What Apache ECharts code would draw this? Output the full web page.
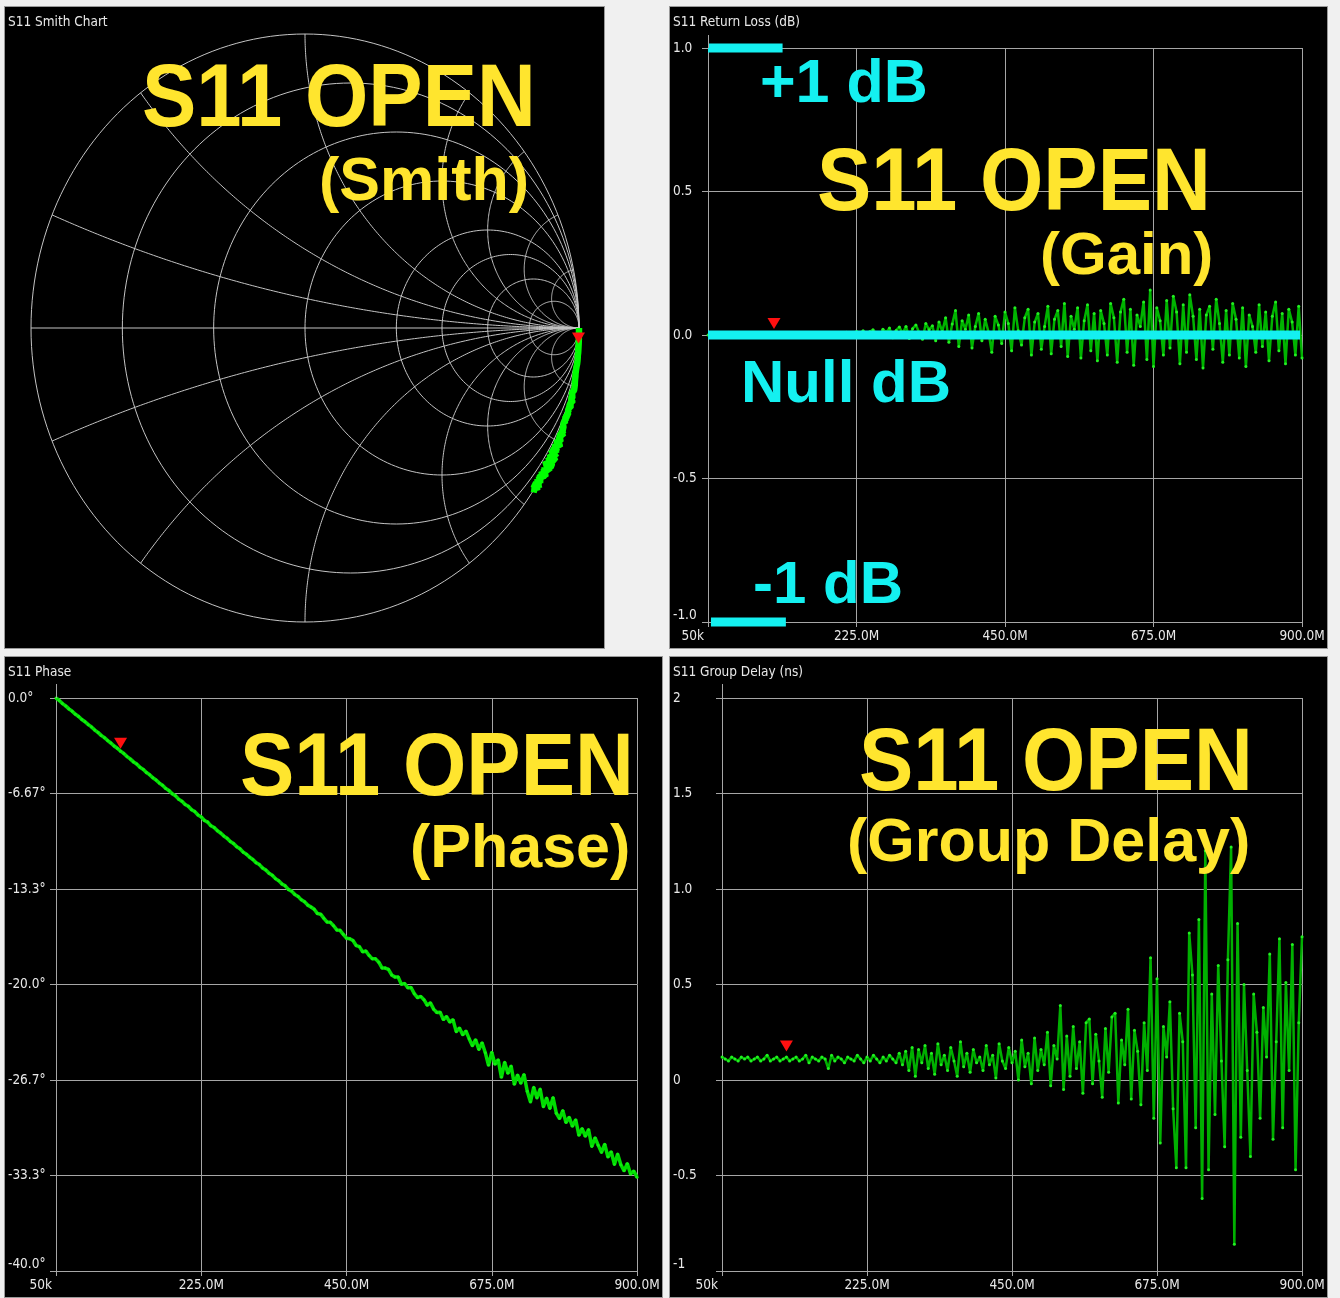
<!DOCTYPE html>
<html><head><meta charset="utf-8">
<script src="https://cdn.jsdelivr.net/npm/echarts@6/dist/echarts.min.js"></script>
<style>
html,body{margin:0;padding:0;background:#f0f0f0;}
.panel{position:absolute;background:#000;box-sizing:border-box;border:1px solid #9a9a9a;}
#c{position:absolute;left:0;top:0;width:1340px;height:1298px;}
</style>
</head><body>
<div class="panel" style="left:4px;top:6px;width:601px;height:643px"></div>
<div class="panel" style="left:669px;top:6px;width:659px;height:643px"></div>
<div class="panel" style="left:4px;top:656px;width:659px;height:642px"></div>
<div class="panel" style="left:669px;top:656px;width:659px;height:642px"></div>
<div id="c"></div>
<script>
// ---------- data ----------
const freqMHz = [
0.05,5,10,15,20,25,30,35,40,45,
50,55,60,65,70,75,80,85,90,95,
100,105,110,115,120,125,130,135,140,145,
150,155,160,165,170,175,180,185,190,195,
200,205,210,215,220,225,230,235,240,245,
250,255,260,265,270,275,280,285,290,295,
300,305,310,315,320,325,330,335,340,345,
350,355,360,365,370,375,380,385,390,395,
400,405,410,415,420,425,430,435,440,445,
450,455,460,465,470,475,480,485,490,495,
500,505,510,515,520,525,530,535,540,545,
550,555,560,565,570,575,580,585,590,595,
600,605,610,615,620,625,630,635,640,645,
650,655,660,665,670,675,680,685,690,695,
700,705,710,715,720,725,730,735,740,745,
750,755,760,765,770,775,780,785,790,795,
800,805,810,815,820,825,830,835,840,845,
850,855,860,865,870,875,880,885,890,895,
900];

const gainDb = [
0.000,0.001,0.000,-0.001,0.002,0.000,0.001,-0.001,0.000,0.002,
0.001,0.000,0.002,-0.001,0.001,0.003,0.000,0.002,-0.001,0.001,
0.002,0.001,-0.001,0.003,0.000,0.002,0.004,-0.002,0.003,0.001,
0.004,-0.002,0.005,0.002,-0.003,0.006,0.001,-0.002,0.005,0.003,
0.008,-0.003,0.010,0.004,-0.006,0.012,0.002,0.015,-0.005,0.011,
0.018,0.004,-0.008,0.020,0.009,0.024,-0.010,0.016,0.028,0.005,
0.030,-0.012,0.022,0.035,0.008,-0.015,0.040,0.018,0.032,-0.020,
0.045,0.012,0.060,-0.025,0.038,0.085,-0.040,0.050,0.020,0.070,
-0.045,0.030,0.075,-0.020,0.055,0.010,-0.060,0.065,0.035,-0.030,
0.080,0.040,-0.055,0.095,0.015,-0.035,0.060,0.090,-0.070,0.045,
0.075,-0.050,0.030,0.100,-0.065,0.055,0.085,-0.040,0.110,-0.075,
0.065,0.020,0.095,-0.080,0.050,0.105,-0.055,0.075,-0.090,0.085,
0.040,-0.070,0.110,0.060,-0.095,0.080,0.125,-0.060,0.090,-0.105,
0.070,0.030,0.115,-0.085,0.157,-0.110,0.095,0.050,-0.070,0.120,
-0.045,0.135,0.080,-0.100,0.105,-0.060,0.140,0.065,-0.085,0.090,
-0.115,0.070,0.100,-0.050,0.125,0.040,-0.095,0.085,-0.070,0.110,
0.055,-0.080,0.095,-0.110,0.070,0.030,-0.060,0.105,-0.040,0.080,
-0.090,0.065,0.115,-0.055,0.075,-0.100,0.090,0.045,-0.070,0.100,
-0.080];

const phaseDeg = [
0.00,-0.17,-0.39,-0.55,-0.76,-0.92,-1.13,-1.29,-1.50,-1.66,
-1.86,-2.02,-2.24,-2.40,-2.61,-2.77,-2.97,-3.14,-3.35,-3.51,
-3.71,-3.87,-4.09,-4.25,-4.46,-4.61,-4.83,-4.98,-5.20,-5.35,
-5.57,-5.72,-5.94,-6.09,-6.31,-6.46,-6.69,-6.83,-7.06,-7.20,
-7.43,-7.56,-7.80,-7.93,-8.17,-8.30,-8.55,-8.66,-8.92,-9.04,
-9.27,-9.42,-9.64,-9.79,-10.02,-10.16,-10.39,-10.53,-10.76,-10.90,
-11.12,-11.27,-11.50,-11.63,-11.87,-12.01,-12.24,-12.37,-12.61,-12.75,
-12.98,-13.11,-13.36,-13.48,-13.72,-13.85,-14.09,-14.22,-14.46,-14.59,
-14.75,-15.05,-15.09,-15.38,-15.64,-15.66,-15.90,-16.19,-16.22,-16.50,
-16.77,-16.80,-16.93,-17.28,-17.36,-17.72,-17.66,-17.97,-18.21,-18.21,
-18.44,-18.84,-18.85,-18.94,-19.33,-19.47,-19.48,-19.98,-19.93,-20.23,
-20.21,-20.64,-20.92,-20.83,-21.06,-21.44,-21.28,-21.72,-21.95,-21.93,
-22.45,-22.24,-22.62,-22.46,-23.29,-23.03,-23.51,-23.25,-23.78,-24.27,
-23.85,-24.54,-24.07,-24.76,-25.64,-24.73,-25.56,-25.25,-26.48,-25.42,
-26.20,-25.69,-26.97,-26.31,-26.89,-26.28,-27.46,-28.20,-27.18,-27.92,
-27.30,-28.54,-27.92,-28.66,-27.89,-28.98,-29.36,-28.80,-29.63,-29.27,
-29.90,-29.44,-30.52,-30.06,-30.59,-30.13,-31.31,-30.70,-31.23,-31.72,
-31.15,-32.04,-31.67,-32.56,-31.84,-32.58,-33.01,-32.50,-33.23,-33.02,
-33.45];

const groupDelayNs = [
0.12,0.11,0.10,0.12,0.11,0.10,0.12,0.11,0.12,0.10,
0.11,0.12,0.10,0.11,0.13,0.10,0.11,0.12,0.10,0.11,
0.12,0.10,0.11,0.12,0.10,0.11,0.13,0.09,0.12,0.11,
0.10,0.12,0.11,0.06,0.13,0.10,0.12,0.11,0.09,0.12,
0.11,0.10,0.13,0.11,0.09,0.12,0.10,0.13,0.11,0.09,
0.12,0.10,0.13,0.11,0.09,0.14,0.08,0.15,0.05,0.17,
0.02,0.16,0.09,0.18,0.06,0.14,0.03,0.19,0.08,0.13,
0.05,0.17,0.10,0.02,0.20,0.07,0.14,0.04,0.16,0.09,
0.12,0.05,0.18,0.08,0.13,0.01,0.19,0.10,0.06,0.17,
0.09,0.15,0.00,0.21,0.07,0.14,-0.02,0.22,0.05,0.16,
0.08,0.25,-0.03,0.18,0.11,0.39,-0.05,0.23,0.02,0.28,
0.06,0.20,-0.07,0.30,0.32,-0.02,0.24,0.10,-0.09,0.27,
0.04,0.33,0.35,-0.12,0.21,0.08,0.37,-0.10,0.26,0.15,
-0.13,0.30,0.05,0.64,-0.20,0.53,-0.33,0.28,0.12,0.41,
-0.15,-0.46,0.35,0.20,-0.46,0.77,0.55,-0.25,0.84,-0.62,
1.20,-0.47,0.45,-0.18,0.60,0.10,-0.35,0.63,1.22,-0.86,
0.82,-0.30,0.50,0.05,-0.40,0.45,0.25,-0.20,0.38,0.12,
0.66,-0.31,0.20,0.74,-0.25,0.51,0.05,0.71,-0.47,0.30,
0.75];

const markerIndex = 20;

// limit lines of the return-loss panel
const upperLimitFreq = [0, 113];   const upperLimitDb = [1, 1];
const nullLimitFreq  = [0, 897];   const nullLimitDb  = [0, 0];
const lowerLimitFreq = [4.5, 118]; const lowerLimitDb = [-1, -1];

// tick labels
const freqTickLabels  = ['50k', '225.0M', '450.0M', '675.0M', '900.0M'];
const gainTickLabels  = ['-1.0', '-0.5', '0.0', '0.5', '1.0'];
const phaseTickLabels = ['-40.0°', '-33.3°', '-26.7°', '-20.0°', '-13.3°', '-6.67°', '0.0°'];
const delayTickLabels = ['-1', '-0.5', '0', '0.5', '1.0', '1.5', '2'];

// Smith chart grid
const smithResistances = [0, 0.2, 0.5, 1, 2, 3, 5, 10];
const smithReactances  = [0.2, 0.5, 1, 2, 3, 5, 10];

// ---------- styles ----------
const YELLOW = '#ffe52e', CYAN = '#14f0f0', GRID = '#a6a6a6', TXT = '#e8e8e8';
const SMALL_FONT = '"DejaVu Sans Condensed", "DejaVu Sans", sans-serif';
const BIG_FONT = '"Liberation Sans", Arial, sans-serif';
const FS = 13.5;

const pairs = (xs, ys) => xs.map((x, i) => [x, ys[i]]);

// Smith trace from magnitude (dB) and phase
const smithTrace = freqMHz.map((f, i) => {
  const m = Math.pow(10, gainDb[i] / 20);
  const a = phaseDeg[i] * Math.PI / 180;
  return [m * Math.cos(a), m * Math.sin(a)];
});

const smithItems = [];
smithResistances.forEach(r => smithItems.push({t: 'r', v: r}));
smithReactances.forEach(x => { smithItems.push({t: 'x', v: x}); smithItems.push({t: 'x', v: -x}); });
smithItems.push({t: 'axis', v: 0});

function smithRender(params, api) {
  const it = smithItems[params.dataIndex];
  const pts = [];
  const N = 200;
  if (it.t === 'r') {
    const c = it.v / (1 + it.v), rad = 1 / (1 + it.v);
    for (let k = 0; k <= N; k++) {
      const t = 2 * Math.PI * k / N;
      pts.push(api.coord([c + rad * Math.cos(t), rad * Math.sin(t)]));
    }
  } else if (it.t === 'x') {
    const x = Math.abs(it.v), s = it.v > 0 ? 1 : -1;
    const cy = 1 / x, rad = 1 / x;
    const px = (x * x - 1) / (x * x + 1), py = 2 * x / (x * x + 1);
    let a0 = Math.atan2(py - cy, px - 1);
    if (a0 < 0) a0 += 2 * Math.PI;
    const a1 = 1.5 * Math.PI;
    for (let k = 0; k <= N; k++) {
      const t = a0 + (a1 - a0) * k / N;
      pts.push(api.coord([1 + rad * Math.cos(t), s * (cy + rad * Math.sin(t))]));
    }
  } else {
    pts.push(api.coord([-1, 0]), api.coord([1, 0]));
  }
  return {type: 'polyline', silent: true, shape: {points: pts},
          style: {stroke: '#c4c4c4', lineWidth: 1, fill: null}};
}

function freqAxis(gridIndex) {
  return {
    type: 'value', gridIndex, min: 0, max: 900, interval: 225,
    axisLine: {show: true, onZero: false, lineStyle: {color: GRID}},
    axisTick: {show: true, length: 5, lineStyle: {color: GRID}},
    splitLine: {show: true, lineStyle: {color: GRID, width: 1}},
    axisLabel: {
      color: TXT, fontSize: FS, fontFamily: SMALL_FONT, margin: 7,
      alignMinLabel: 'right',
      formatter: v => {
        const s = freqTickLabels[Math.round(v / 225)];
        return v === 0 ? '{m|' + s + '}' : s;
      },
      rich: {m: {color: TXT, fontSize: FS, fontFamily: SMALL_FONT, padding: [0, 4, 0, 0]}}
    }
  };
}
function valueAxis(gridIndex, min, max, interval, labels, margin) {
  return {
    type: 'value', gridIndex, min, max, interval,
    axisLine: {show: true, onZero: false, lineStyle: {color: GRID}},
    axisTick: {show: true, length: 6, lineStyle: {color: GRID}},
    splitLine: {show: true, lineStyle: {color: GRID, width: 1}},
    axisLabel: {
      color: TXT, fontSize: FS, fontFamily: SMALL_FONT, margin, align: 'left',
      verticalAlignMinLabel: 'bottom',
      formatter: v => labels[Math.round((v - min) / interval)]
    }
  };
}

function marker(coord, offset) {
  return {
    symbol: 'triangle', symbolRotate: 180, symbolSize: [13, 11], symbolOffset: [0, offset],
    itemStyle: {color: '#ff1010'}, label: {show: false}, silent: true,
    data: [{coord}]
  };
}

const trace = (xi, yi, data, color, width, mp, dot) => ({
  type: 'line', xAxisIndex: xi, yAxisIndex: yi, data, clip: false, silent: true,
  symbol: dot ? 'circle' : 'none', showSymbol: !!dot, symbolSize: 3,
  itemStyle: {color: dot || color},
  lineStyle: {color, width}, z: 3, markPoint: mp, animation: false
});

const limit = (data) => ({
  type: 'line', xAxisIndex: 1, yAxisIndex: 1, data, clip: false, silent: true,
  symbol: 'none', lineStyle: {color: CYAN, width: 9, cap: 'butt'}, z: 5, animation: false
});

const texts = [
  ['S11 OPEN', 142, 101, 89, YELLOW, 0.915],
  ['(Smith)', 319, 183, 61, YELLOW, 1],
  ['+1 dB', 760, 85, 61, CYAN, 1],
  ['S11 OPEN', 817, 185, 89, YELLOW, 0.915],
  ['(Gain)', 1040, 257, 60, YELLOW, 1],
  ['Null dB', 741, 385, 60, CYAN, 1],
  ['-1 dB', 753, 586, 60, CYAN, 1],
  ['S11 OPEN', 240, 770, 89, YELLOW, 0.915],
  ['(Phase)', 410, 850, 61, YELLOW, 1],
  ['S11 OPEN', 859, 765, 89, YELLOW, 0.915],
  ['(Group Delay)', 847, 844, 61, YELLOW, 1]
];
const titles = [
  ['S11 Smith Chart', 8, 22], ['S11 Return Loss (dB)', 673, 22],
  ['S11 Phase', 8, 672], ['S11 Group Delay (ns)', 673, 672]
];

const graphics = [];
titles.forEach(([t, x, y]) => graphics.push({
  type: 'text', x, y, z: 100, silent: true,
  style: {text: t, font: FS + 'px ' + SMALL_FONT, fill: TXT, align: 'left', verticalAlign: 'middle'}
}));
texts.forEach(([t, x, y, size, color, sx]) => graphics.push({
  type: 'text', x, y, scaleX: sx, z: 100, silent: true,
  style: {text: t, font: 'bold ' + size + 'px ' + BIG_FONT, fill: color, align: 'left', verticalAlign: 'middle'}
}));
// y-axis lines rise a little above the top grid line
[[708.5, 35, 48], [56.5, 684, 698], [722.5, 684, 698]].forEach(([x, y1, y2]) => graphics.push({
  type: 'line', z: 50, silent: true, shape: {x1: x, y1, x2: x, y2}, style: {stroke: GRID, lineWidth: 1}
}));

const chart = echarts.init(document.getElementById('c'), null, {renderer: 'canvas'});
chart.setOption({
  backgroundColor: 'transparent',
  animation: false,
  grid: [
    {left: 31, top: 34, width: 548, height: 588, outerBoundsMode: 'none'},
    {left: 708, top: 48, width: 594, height: 574, outerBoundsMode: 'none'},
    {left: 56, top: 698, width: 581, height: 573, outerBoundsMode: 'none'},
    {left: 722, top: 698, width: 580, height: 573, outerBoundsMode: 'none'}
  ],
  xAxis: [
    {type: 'value', gridIndex: 0, min: -1, max: 1, show: false},
    freqAxis(1), freqAxis(2), freqAxis(3)
  ],
  yAxis: [
    {type: 'value', gridIndex: 0, min: -1, max: 1, show: false},
    valueAxis(1, -1, 1, 0.5, gainTickLabels, 35),
    valueAxis(2, -40, 0, 40 / 6, phaseTickLabels, 48),
    valueAxis(3, -1, 2, 0.5, delayTickLabels, 49)
  ],
  series: [
    {type: 'custom', xAxisIndex: 0, yAxisIndex: 0, silent: true, z: 1,
     renderItem: smithRender, data: smithItems.map(it => [it.v, 0]), clip: false},
    trace(0, 0, smithTrace, '#00ff00', 6.5, marker(smithTrace[markerIndex], -9)),
    trace(1, 1, pairs(freqMHz, gainDb), '#00b400', 2.5,
          marker([freqMHz[markerIndex], gainDb[markerIndex]], -11), '#22f022'),
    limit(pairs(upperLimitFreq, upperLimitDb)),
    limit(pairs(nullLimitFreq, nullLimitDb)),
    limit(pairs(lowerLimitFreq, lowerLimitDb)),
    trace(2, 2, pairs(freqMHz, phaseDeg), '#00dc00', 3.5,
          marker([freqMHz[markerIndex], phaseDeg[markerIndex]], -8), '#10ee10'),
    trace(3, 3, pairs(freqMHz, groupDelayNs), '#00b000', 2.5,
          marker([freqMHz[markerIndex], groupDelayNs[markerIndex]], -11), '#22f022')
  ],
  graphic: {elements: graphics}
});
</script>
</body></html>
